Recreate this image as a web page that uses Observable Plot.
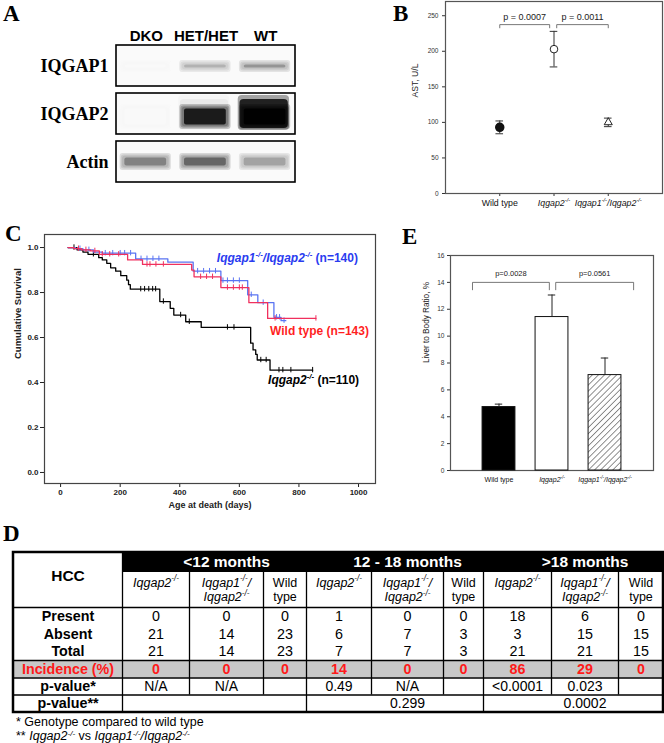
<!DOCTYPE html>
<html><head><meta charset="utf-8">
<script src="https://cdn.jsdelivr.net/npm/d3@7"></script>
<script src="https://cdn.jsdelivr.net/npm/@observablehq/plot@0.6"></script>
<style>
html,body{margin:0;padding:0;background:#fff;}
#fig{position:relative;width:664px;height:743px;overflow:hidden;font-family:"Liberation Sans",Arial,sans-serif;background:#fff;}
.panel{position:absolute;}
.letter{position:absolute;font-family:"Liberation Serif","Times New Roman",serif;font-weight:bold;font-size:23px;line-height:1;}
.foot{position:absolute;left:16px;font-size:12.5px;line-height:1;white-space:nowrap;color:#000;}
.foot sup{font-size:0.65em;vertical-align:0.5em;line-height:0;font-style:italic;}
</style></head>
<body><div id="fig"></div>
<script>
// ================= DATA =================
// Panel A – western blot (relative band signal per lane)
const blotLanes = ["DKO", "HET/HET", "WT"];
const blotProteins = ["IQGAP1", "IQGAP2", "Actin"];
const iqgap1Signal = [0.0, 0.30, 0.42];
const iqgap2Signal = [0.0, 0.93, 1.0];
const actinSignal = [0.5, 0.62, 0.36];

// Panel B – AST (mean and error bar limits)
const genotypes = ["Wild type", "~Iqgap2^-/-^~", "~Iqgap1^-/-^/Iqgap2^-/-^~"];
const astMean = [93, 203, 100];
const astLow = [84, 178, 94];
const astHigh = [102, 228, 106];
const astP = ["p = 0.0007", "p = 0.0011"];

// Panel C – Kaplan-Meier survival (step times, survival, censor times)
const kmKoTime = [25, 55, 75, 92, 128, 140, 155, 168, 185, 202, 222, 228, 234, 333, 368, 380, 420, 472, 638, 646, 655, 660, 703, 846];
const kmKoSurv = [1.0, 0.99, 0.98, 0.97, 0.955, 0.945, 0.93, 0.91, 0.895, 0.875, 0.855, 0.835, 0.815, 0.76, 0.73, 0.70, 0.67, 0.645, 0.575, 0.545, 0.525, 0.50, 0.455, 0.455];
const kmKoCensor = [45, 110, 269, 282, 296, 309, 319, 345, 403, 432, 560, 582, 672, 690, 733, 746, 773, 846];
const kmDkoTime = [25, 50, 75, 110, 140, 252, 360, 445, 538, 628, 662, 716, 740, 756];
const kmDkoSurv = [1.0, 0.995, 0.99, 0.98, 0.975, 0.95, 0.935, 0.895, 0.853, 0.79, 0.755, 0.69, 0.675, 0.675];
const kmDkoCensor = [65, 95, 150, 175, 200, 215, 235, 270, 290, 310, 330, 460, 480, 500, 520, 545, 560, 580, 600, 640, 680, 725, 735, 750];
const kmWtTime = [25, 45, 70, 100, 130, 225, 275, 440, 448, 538, 632, 695, 857];
const kmWtSurv = [1.0, 0.995, 0.99, 0.985, 0.97, 0.945, 0.925, 0.90, 0.87, 0.822, 0.755, 0.685, 0.685];
const kmWtCensor = [60, 85, 115, 140, 165, 195, 290, 300, 320, 345, 470, 490, 510, 560, 580, 600, 610, 720, 857];
const kmLabels = ["~Iqgap1^-/-^/Iqgap2^-/-^~ (n=140)", "Wild type (n=143)", "~Iqgap2^-/-^~ (n=110)"];
const kmXTicks = [0, 200, 400, 600, 800, 1000];
const kmYTicks = [0, 0.2, 0.4, 0.6, 0.8, 1.0];

// Panel E – liver to body ratio
const liverMean = [4.72, 11.42, 7.1];
const liverErr = [0.22, 1.64, 1.27];
const liverP = ["p=0.0028", "p=0.0561"];

// Panel D – HCC table
const hccPeriods = ["<12 months", "12 - 18 months", ">18 months"];
const genotypeLine1 = ["~Iqgap2^-/-^~", "~Iqgap1^-/-^/~", "Wild"];
const genotypeLine2 = ["", "~Iqgap2^-/-^~", "type"];
const hccRowLabels = ["Present", "Absent", "Total", "Incidence (%)", "p-value*", "p-value**"];
const hccPresent = [0, 0, 0, 1, 0, 0, 18, 6, 0];
const hccAbsent = [21, 14, 23, 6, 7, 3, 3, 15, 15];
const hccTotal = [21, 14, 23, 7, 7, 3, 21, 21, 15];
const hccIncidence = [0, 0, 0, 14, 0, 0, 86, 29, 0];
const hccPGenotype = ["N/A", "N/A", "", "0.49", "N/A", "", "<0.0001", "0.023", ""];
const hccPKnockouts = ["", "0.299", "0.0002"];

// ================= HELPERS =================
const SANS = "'Liberation Sans',Arial,Helvetica,sans-serif";
const SERIF = "'Liberation Serif','Times New Roman',serif";
const fig = document.getElementById("fig");
function place(node, left, top, w) {
  const div = document.createElement("div");
  div.className = "panel";
  div.style.left = left + "px"; div.style.top = top + "px"; div.style.width = w + "px";
  div.appendChild(node); fig.appendChild(div);
  return node;
}
// ~ toggles italic, ^ toggles superscript
function richify(root) {
  root.querySelectorAll("text").forEach(t => {
    const targets = t.querySelector("tspan") ? [...t.querySelectorAll("tspan")] : [t];
    targets.forEach(el => {
      const s = el.textContent;
      if (!/[~^]/.test(s)) return;
      const fs = parseFloat(getComputedStyle(el).fontSize) || 10;
      el.textContent = "";
      let ital = false, sup = false, buf = "";
      const runs = [];
      for (const ch of s) {
        if (ch === "~" || ch === "^") {
          if (buf) runs.push({text: buf, ital, sup});
          buf = "";
          if (ch === "~") ital = !ital; else sup = !sup;
        } else buf += ch;
      }
      if (buf) runs.push({text: buf, ital, sup});
      let cur = 0;
      runs.forEach(r => {
        const ts = document.createElementNS("http://www.w3.org/2000/svg", "tspan");
        ts.textContent = r.text;
        if (r.ital) ts.setAttribute("font-style", "italic");
        const target = r.sup ? -0.42 * fs : 0;
        if (target !== cur) { ts.setAttribute("dy", (target - cur).toFixed(2)); cur = target; }
        if (r.sup) ts.setAttribute("font-size", (fs * 0.65).toFixed(2));
        el.appendChild(ts);
      });
    });
  });
}
function survAt(time, surv, t) {
  let s = surv[0];
  for (let i = 0; i < time.length; i++) if (time[i] <= t) s = surv[i];
  return s;
}

// ================= PANEL A =================
const signals = [iqgap1Signal, iqgap2Signal, actinSignal];
const blotData = blotProteins.flatMap((p, pi) => blotLanes.map((l, li) => ({protein: p, lane: li, signal: signals[pi][li]})));
const bandInset = {IQGAP1: [19, 18], IQGAP2: [15, 9], Actin: [16, 16]};
// soft-edged bands: several translucent layers of growing size around a core
const softLayers = [3, 2, 1];
const bandMarks = blotProteins.flatMap(p => {
  const rows = blotData.filter(d => d.protein === p);
  const [t, b] = bandInset[p];
  return [
    ...softLayers.map(k => Plot.barX(rows, {y: "protein", x1: d => d.lane + 0.12 - 0.02 * k, x2: d => d.lane + 0.86 + 0.02 * k, fill: "signal", fillOpacity: 0.22, insetTop: Math.max(1, t - 1.3 * k), insetBottom: Math.max(1, b - 1.3 * k), rx: 3})),
    Plot.barX(rows, {y: "protein", x1: d => d.lane + 0.14, x2: d => d.lane + 0.84, fill: "signal", fillOpacity: 0.9, insetTop: t + 0.5, insetBottom: b + 0.5, rx: 2})
  ];
});
const plotA = Plot.plot({
  width: 300, height: 190, marginLeft: 116, marginRight: 5, marginTop: 45, marginBottom: 8,
  style: {fontFamily: SERIF, fontSize: "18px", fontWeight: "bold", color: "#000", background: "transparent"},
  x: {domain: [0, 3], axis: null},
  y: {domain: blotProteins, paddingInner: 0.15, paddingOuter: 0, tickSize: 0, tickPadding: 8, label: null},
  color: {type: "linear", domain: [0, 1], range: ["#f8f8f8", "#000000"]},
  marks: [
    Plot.barX(blotProteins, {y: d => d, x1: 0, x2: 3, fill: "#fafafa"}),
    Plot.barX(blotData.filter(d => d.protein === "IQGAP2"), {y: "protein", x1: d => d.lane + 0.04, x2: d => d.lane + 0.9, fill: "signal", fillOpacity: d => Math.pow(d.signal, 40) * 0.35, insetTop: 2, insetBottom: 4, rx: 4}),
    Plot.barX(blotData.filter(d => d.protein === "IQGAP2"), {y: "protein", x1: d => d.lane + 0.07, x2: d => d.lane + 0.88, fill: "signal", fillOpacity: d => Math.pow(d.signal, 40) * 0.8, insetTop: 6, insetBottom: 6, rx: 4}),
    ...bandMarks,
    Plot.barX(blotProteins, {y: d => d, x1: 0, x2: 3, fill: "none", stroke: "#000", strokeWidth: 1.6}),
    Plot.text(blotLanes, {x: (d, i) => i + 0.5, frameAnchor: "top", dy: -15, text: d => d, fontFamily: SANS, fontSize: 15, fontWeight: "bold", fill: "#000"})
  ]
});
place(plotA, 0, 0, 300);

// ================= PANEL B =================
const astData = genotypes.map((g, i) => ({i: i + 1, mean: astMean[i], low: astLow[i], high: astHigh[i]}));
const bLevel = 237.5, bDrop = 233;
const astBrackets = [{x1: 1, x2: 1.92, p: astP[0]}, {x1: 2.05, x2: 3, p: astP[1]}];
const astBracketPath = astBrackets.flatMap((b, k) => [{k, x: b.x1, y: bDrop}, {k, x: b.x1, y: bLevel}, {k, x: b.x2, y: bLevel}, {k, x: b.x2, y: bDrop}]);
const plotB = Plot.plot({
  width: 284, height: 215, marginLeft: 65, marginRight: 2, marginTop: 1, marginBottom: 22,
  style: {fontFamily: SANS, fontSize: "6.5px", color: "#333", background: "transparent"},
  x: {domain: [0, 4], ticks: [1, 2, 3], tickFormat: () => "", tickSize: 3, label: null},
  y: {domain: [0, 270], ticks: [0, 50, 100, 150, 200, 250], tickSize: 3, tickPadding: 4, label: null},
  marks: [
    Plot.frame({stroke: "#555", strokeWidth: 1.2}),
    Plot.line(astBracketPath, {x: "x", y: "y", z: "k", stroke: "#555", strokeWidth: 0.8}),
    Plot.text(astBrackets, {x: d => (d.x1 + d.x2) / 2, y: bLevel, dy: -8, text: "p", fontSize: 9, fill: "#222"}),
    Plot.ruleX(astData, {x: "i", y1: "low", y2: "high", stroke: "#333", strokeWidth: 1}),
    Plot.ruleY(astData, {y: "low", x1: d => d.i - 0.07, x2: d => d.i + 0.07, stroke: "#333"}),
    Plot.ruleY(astData, {y: "high", x1: d => d.i - 0.07, x2: d => d.i + 0.07, stroke: "#333"}),
    Plot.dot(astData.filter(d => d.i === 1), {x: "i", y: "mean", r: 4, fill: "#111", stroke: "#111"}),
    Plot.dot(astData.filter(d => d.i === 2), {x: "i", y: "mean", r: 3.8, fill: "white", stroke: "#222", strokeWidth: 1}),
    Plot.dot(astData.filter(d => d.i === 3), {x: "i", y: "mean", r: 3, symbol: "triangle", fill: "white", stroke: "#222", strokeWidth: 1}),
    Plot.text(genotypes, {x: (d, i) => i + 1, frameAnchor: "bottom", dy: 12, text: d => d, fontSize: 8.8, fill: "#111"}),
    Plot.text(["AST, U/L"], {frameAnchor: "left", dx: -30, rotate: -90, text: d => d, fontSize: 8.6, fill: "#222"})
  ]
});
place(plotB, 380, 0, 284);

// ================= PANEL C =================
const kmSeries = [
  {time: kmKoTime, surv: kmKoSurv, censor: kmKoCensor, color: "#000000"},
  {time: kmDkoTime, surv: kmDkoSurv, censor: kmDkoCensor, color: "#5a74f2"},
  {time: kmWtTime, surv: kmWtSurv, censor: kmWtCensor, color: "#f0305e"}
];
const kmMarks = kmSeries.flatMap(s => {
  const pts = s.time.map((t, i) => ({t, s: s.surv[i]}));
  const cens = s.censor.map(t => ({t, s: survAt(s.time, s.surv, t)}));
  return [
    Plot.line(pts, {x: "t", y: "s", curve: "step-after", stroke: s.color, strokeWidth: 1.3}),
    Plot.ruleX(cens, {x: "t", y1: d => d.s - 0.012, y2: d => d.s + 0.012, stroke: s.color, strokeWidth: 1})
  ];
});
const plotC = Plot.plot({
  width: 380, height: 290, marginLeft: 44, marginRight: 5, marginTop: 9, marginBottom: 32,
  style: {fontFamily: "'Liberation Sans Narrow','Liberation Sans',Arial,sans-serif", fontSize: "8px", fontWeight: "bold", color: "#222", background: "transparent"},
  x: {domain: [-54, 1057], ticks: kmXTicks, tickFormat: d3.format("d"), tickSize: 4, tickPadding: 2, label: null},
  y: {domain: [-0.049, 1.058], ticks: kmYTicks, tickFormat: d3.format(".1f"), tickSize: 4, tickPadding: 2, label: null},
  marks: [
    Plot.frame({stroke: "#444", strokeWidth: 1.2}),
    ...kmMarks,
    Plot.text([kmLabels[0]], {x: 998, y: 0.951, text: d => d, textAnchor: "end", fill: "#2a3cf0", fontSize: 12, fontWeight: "bold", fontFamily: SANS}),
    Plot.text([kmLabels[1]], {x: 1035, y: 0.627, text: d => d, textAnchor: "end", fill: "#ff1f1f", fontSize: 12, fontWeight: "bold", fontFamily: SANS}),
    Plot.text([kmLabels[2]], {x: 1002, y: 0.409, text: d => d, textAnchor: "end", fill: "#000", fontSize: 12, fontWeight: "bold", fontFamily: SANS}),
    Plot.text(["Cumulative Survival"], {frameAnchor: "left", dx: -27, rotate: -90, text: d => d, fontSize: 9.5, fill: "#222"}),
    Plot.text(["Age at death (days)"], {frameAnchor: "bottom", dy: 24, text: d => d, fontSize: 9, fill: "#222"})
  ]
});
place(plotC, 0, 225, 380);

// ================= PANEL E =================
const liverData = genotypes.map((g, i) => ({i: i + 1, mean: liverMean[i], err: liverErr[i]}));
const eLevel = 14, eDrop = 13.45, halfBar = 0.31;
const liverBrackets = [{x1: 0.5, x2: 1.95, p: liverP[0]}, {x1: 2.07, x2: 3.54, p: liverP[1]}];
const liverBracketPath = liverBrackets.flatMap((b, k) => [{k, x: b.x1, y: eDrop}, {k, x: b.x1, y: eLevel}, {k, x: b.x2, y: eLevel}, {k, x: b.x2, y: eDrop}]);
const barFills = ["#000", "white", "url(#hatchE)"];
const plotE = Plot.plot({
  width: 284, height: 255, marginLeft: 70, marginRight: 11, marginTop: 15, marginBottom: 25,
  style: {fontFamily: SANS, fontSize: "6.6px", color: "#333", background: "transparent"},
  x: {domain: [0.085, 3.915], ticks: [1, 2, 3], tickFormat: () => "", tickSize: 0, label: null},
  y: {domain: [0, 16], ticks: d3.range(0, 17, 2), tickSize: 3, tickPadding: 3, label: null},
  marks: [
    Plot.frame({stroke: "#555", strokeWidth: 1.2}),
    ...liverData.map((d, k) => Plot.rect([d], {x1: v => v.i - halfBar, x2: v => v.i + halfBar, y1: 0, y2: "mean", fill: barFills[k], stroke: "#111", strokeWidth: 1})),
    Plot.ruleX(liverData, {x: "i", y1: "mean", y2: d => d.mean + d.err, stroke: "#222"}),
    Plot.ruleY(liverData, {y: d => d.mean + d.err, x1: d => d.i - 0.07, x2: d => d.i + 0.07, stroke: "#222"}),
    Plot.line(liverBracketPath, {x: "x", y: "y", z: "k", stroke: "#555", strokeWidth: 0.8}),
    Plot.text(liverBrackets, {x: d => (d.x1 + d.x2) / 2, y: eLevel, dy: -9, text: "p", fontSize: 7.5, fill: "#222"}),
    Plot.text(genotypes, {x: (d, i) => i + 1, frameAnchor: "bottom", dy: 11, text: d => d, fontSize: 7, fill: "#111"}),
    Plot.text(["Liver to Body Ratio, %"], {frameAnchor: "left", dx: -24, rotate: -90, text: d => d, fontSize: 8.2, fill: "#222"})
  ]
});
place(plotE, 380, 240, 284);
{
  const defs = d3.select(plotE).insert("defs", ":first-child");
  const pat = defs.append("pattern").attr("id", "hatchE").attr("patternUnits", "userSpaceOnUse")
    .attr("width", 4.3).attr("height", 4.3).attr("patternTransform", "rotate(45)");
  pat.append("rect").attr("width", 4.3).attr("height", 4.3).attr("fill", "white");
  pat.append("line").attr("x1", 0).attr("y1", 0).attr("x2", 0).attr("y2", 4.3).attr("stroke", "#222").attr("stroke-width", 1);
}

// ================= PANEL D (table) =================
const colEdges = [13, 122, 189, 263, 306, 371, 443, 483, 551, 618, 663];
const rowEdges = [7, 27, 62, 80, 97, 115, 132.5, 149.5, 167];
const nCols = hccPeriods.length * genotypeLine1.length;
const firstRow = 2;
const incRow = firstRow + hccRowLabels.indexOf("Incidence (%)");
const lastRow = firstRow + hccRowLabels.length;
const cols = d3.range(nCols);
const valueRows = [hccPresent, hccAbsent, hccTotal];
const LW = 1.3;
const plotD = Plot.plot({
  width: 664, height: 172, marginLeft: 0, marginRight: 0, marginTop: 0, marginBottom: 0,
  style: {fontFamily: SANS, fontSize: "14px", color: "#000", background: "transparent"},
  x: {type: "linear", domain: d3.range(colEdges.length), range: colEdges, axis: null},
  y: {type: "linear", domain: d3.range(rowEdges.length), range: rowEdges, axis: null},
  marks: [
    Plot.rect([0], {x1: 0, x2: nCols + 1, y1: incRow, y2: incRow + 1, fill: "#c8c8c8"}),
    Plot.rect([0], {x1: 1, x2: nCols + 1, y1: 0, y2: 1, fill: "#000"}),
    Plot.ruleX(d3.range(2, nCols + 1).filter(c => (c - 1) % 3 !== 0), {x: d => d, y1: 1, y2: lastRow - 1, stroke: "#000", strokeWidth: LW}),
    Plot.ruleX(d3.range(1, nCols + 1, 3), {x: d => d, y1: 0, y2: lastRow, stroke: "#000", strokeWidth: LW}),
    Plot.ruleY([firstRow, incRow, incRow + 1, lastRow - 1], {y: d => d, x1: 0, x2: nCols + 1, stroke: "#000", strokeWidth: LW}),
    Plot.rect([0], {x1: 0, x2: nCols + 1, y1: 0, y2: lastRow, fill: "none", stroke: "#000", strokeWidth: 2.5}),
    Plot.text(hccPeriods, {x: (d, i) => 1 + 3 * i + 1.5, y: 0.5, text: d => d, fill: "white", fontWeight: "bold", fontSize: 15.5}),
    Plot.text(["HCC"], {x: 0.5, y: 1.1, text: d => d, fontWeight: "bold", fontSize: 15.5, fill: "#000"}),
    Plot.text(cols, {x: c => c + 1.5, y: 1.29, text: c => genotypeLine1[c % 3], fontSize: 12.5, fill: "#000"}),
    Plot.text(cols, {x: c => c + 1.5, y: 1.71, text: c => genotypeLine2[c % 3], fontSize: 12.5, fill: "#000"}),
    Plot.text(hccRowLabels.filter(d => !d.startsWith("Incidence")), {x: 0.5, y: d => firstRow + hccRowLabels.indexOf(d) + 0.5, text: d => d, fontWeight: "bold", fontSize: 14.3, fill: "#000"}),
    Plot.text(hccRowLabels.filter(d => d.startsWith("Incidence")), {x: 0.5, y: d => firstRow + hccRowLabels.indexOf(d) + 0.5, text: d => d, fontWeight: "bold", fontSize: 14.3, fill: "#ff1a1a"}),
    ...valueRows.map((arr, r) => Plot.text(cols, {x: c => c + 1.5, y: firstRow + r + 0.5, text: c => String(arr[c]), fontSize: 14.3, fill: "#000"})),
    Plot.text(cols, {x: c => c + 1.5, y: incRow + 0.5, text: c => String(hccIncidence[c]), fontSize: 14.3, fontWeight: "bold", fill: "#ff1a1a"}),
    Plot.text(cols, {x: c => c + 1.5, y: incRow + 1.5, text: c => hccPGenotype[c], fontSize: 14, fill: "#000"}),
    Plot.text(hccPKnockouts, {x: (d, i) => 1 + 3 * i + 1.5, y: lastRow - 0.5, text: d => d, fontSize: 14, fill: "#000"})
  ]
});
place(plotD, 0, 545, 664);

// ================= Rich text =================
[plotA, plotB, plotC, plotD, plotE].forEach(richify);

// ================= Letters & footnotes =================
const letters = [["A", 3, 2], ["B", 393, 2], ["C", 5, 222], ["E", 402, 225], ["D", 3, 522]];
letters.forEach(([t, x, y]) => {
  const d = document.createElement("div");
  d.className = "letter"; d.textContent = t;
  d.style.left = x + "px"; d.style.top = y + "px";
  fig.appendChild(d);
});
const foot1 = document.createElement("div");
foot1.className = "foot"; foot1.style.top = "716px";
foot1.textContent = "* Genotype compared to wild type";
fig.appendChild(foot1);
const foot2 = document.createElement("div");
foot2.className = "foot"; foot2.style.top = "730px";
foot2.innerHTML = "** <i>Iqgap2</i><sup>-/-</sup> vs <i>Iqgap1</i><sup>-/-</sup><i>/Iqgap2</i><sup>-/-</sup>";
fig.appendChild(foot2);
</script>
</body></html>
